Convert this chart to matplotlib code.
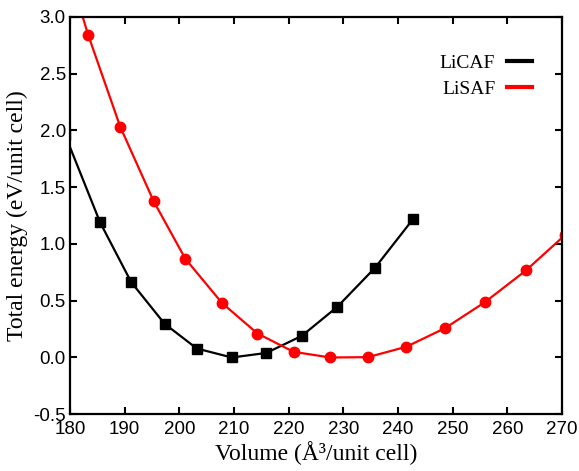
import matplotlib
matplotlib.use('Agg')
import matplotlib.pyplot as plt
from matplotlib.lines import Line2D

# === DADOS ===
vol_licaf = [179.1, 185.5, 191.2, 197.3, 203.2, 209.6, 215.9, 222.4, 228.9, 235.8, 242.7]
e_licaf = [1.96, 1.19, 0.663, 0.297, 0.079, 0.0, 0.04, 0.19, 0.446, 0.79, 1.215]

vol_lisaf = [177.3, 183.3, 189.2, 195.3, 201.1, 207.8, 214.3, 220.9, 227.6, 234.5,
             241.5, 248.6, 255.9, 263.4, 270.6]
e_lisaf = [3.8, 2.843, 2.03, 1.376, 0.869, 0.48, 0.211, 0.05, 0.0, 0.003,
           0.094, 0.258, 0.487, 0.766, 1.08]

xticks = [180, 190, 200, 210, 220, 230, 240, 250, 260, 270]
yticks = [-0.5, 0.0, 0.5, 1.0, 1.5, 2.0, 2.5, 3.0]

# === FIGURA ===
fig = plt.figure(figsize=(5.79, 4.71), dpi=100)
ax = fig.add_axes([0.1209, 0.1204, 0.8497, 0.8441])

ax.plot(vol_licaf, e_licaf, color='black', lw=1.6, marker='s', ms=6.5, label='LiCAF')
ax.plot(vol_lisaf, e_lisaf, color='#ff0000', lw=1.6, marker='o', ms=7.5, label='LiSAF')

ax.set_xlim(180, 270)
ax.set_ylim(-0.5, 3.0)
ax.set_xticks(xticks)
ax.set_yticks(yticks)
ax.set_xticklabels([str(t) for t in xticks], family='Liberation Sans', fontsize=13.5)
ax.set_yticklabels([f'{t:.1f}' for t in yticks], family='Liberation Sans', fontsize=13.5)
ax.tick_params(direction='in', length=5, width=1.5, top=True, right=True)
ax.tick_params(axis='x', pad=5)
ax.tick_params(axis='y', pad=3)

for s in ax.spines.values():
    s.set_linewidth(1.6)

ax.set_xlabel('Volume (Å³/unit cell)', family='Liberation Serif', fontsize=17, labelpad=2)
ax.set_ylabel('Total energy (eV/unit cell)', family='Liberation Serif', fontsize=17, labelpad=4)

# legenda sem marcadores, texto antes da linha
handles = [Line2D([], [], color='black', lw=3),
           Line2D([], [], color='#ff0000', lw=3)]
ax.legend(handles, ['LiCAF', 'LiSAF'], loc='upper right', frameon=False,
          markerfirst=False, handlelength=1.3, handletextpad=0.6,
          labelspacing=0.45, bbox_to_anchor=(0.975, 0.95),
          prop={'family': 'Liberation Serif', 'size': 14})

plt.savefig('out.png', dpi=100)
